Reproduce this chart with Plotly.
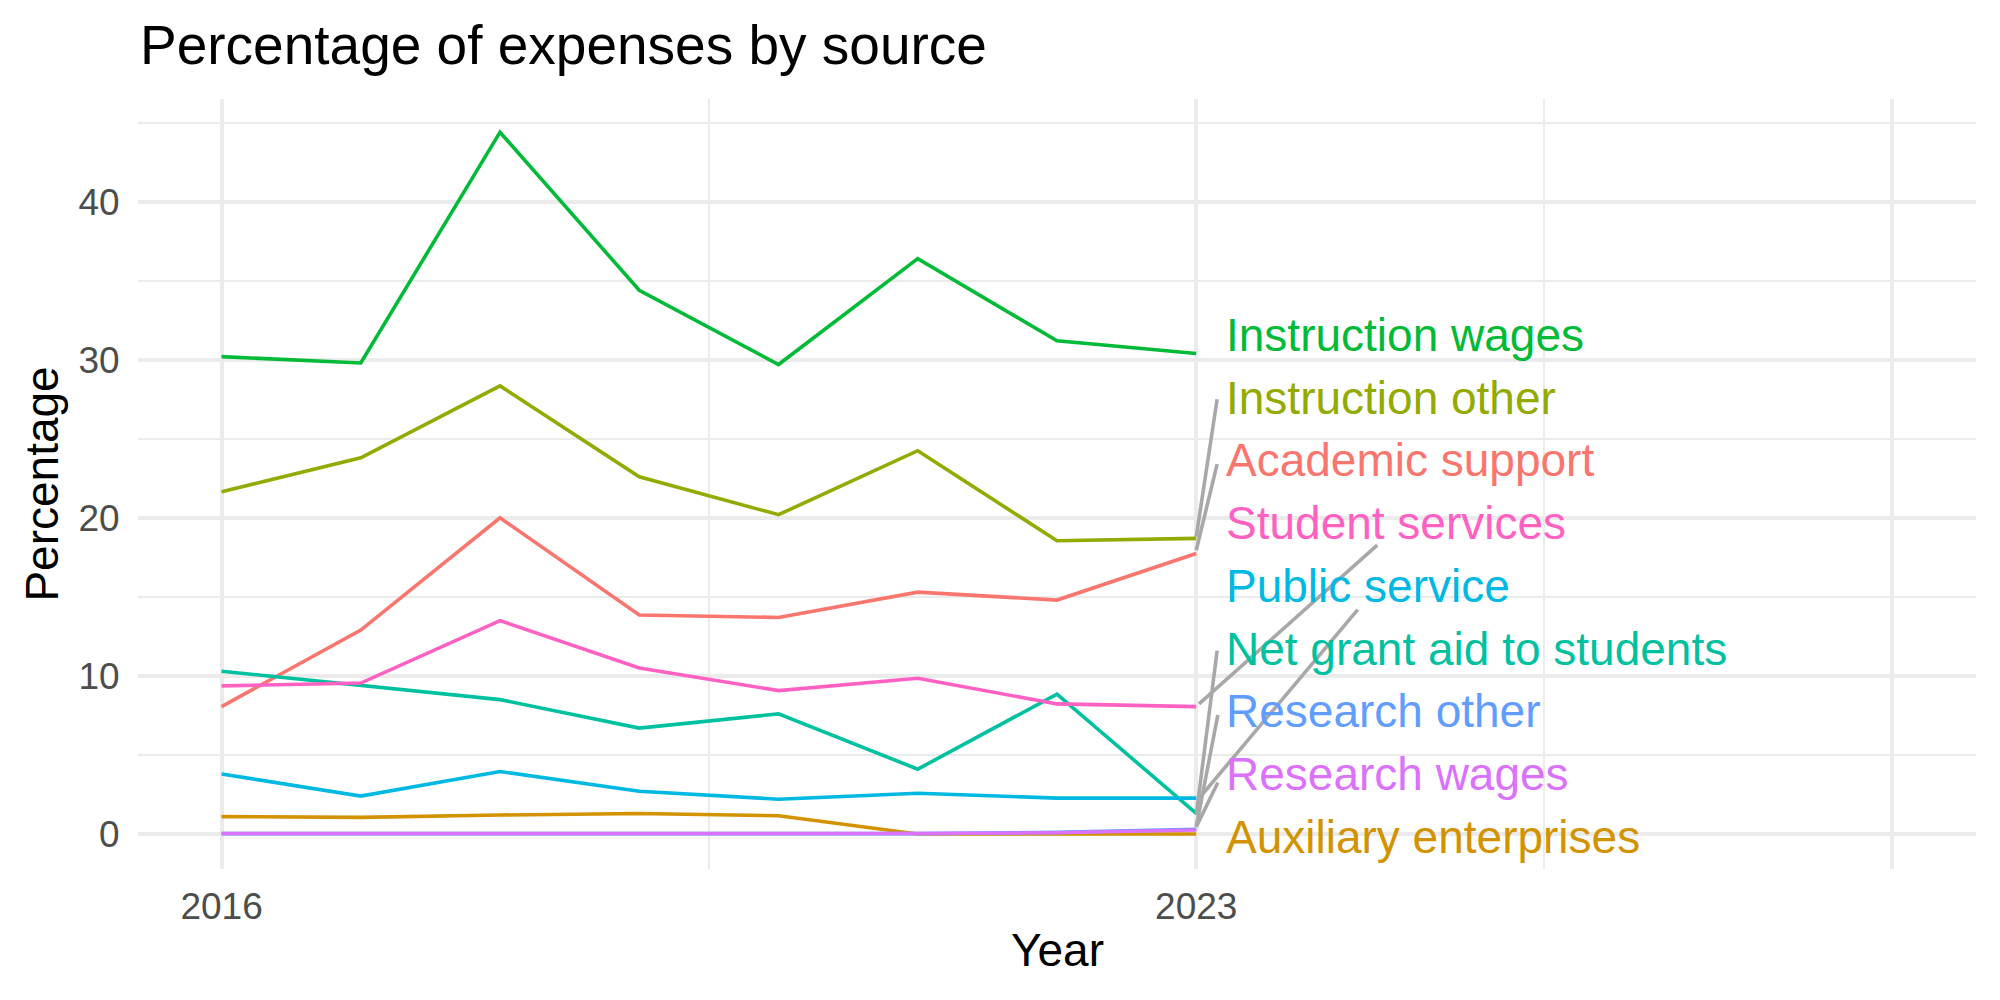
import plotly.graph_objects as go

# ---------------- data ----------------
years = [2016, 2017, 2018, 2019, 2020, 2021, 2022, 2023]

academic_support = [8.06, 12.9, 20.0, 13.85, 13.7, 15.3, 14.8, 17.75]
auxiliary_enterprises = [1.1, 1.05, 1.2, 1.3, 1.15, 0.0, 0.0, 0.0]
instruction_other = [21.65, 23.8, 28.35, 22.6, 20.2, 24.25, 18.55, 18.7]
instruction_wages = [30.2, 29.8, 44.4, 34.4, 29.7, 36.4, 31.2, 30.4]
net_grant_aid = [10.3, 9.4, 8.5, 6.7, 7.6, 4.1, 8.85, 1.3]
public_service = [3.8, 2.4, 3.95, 2.7, 2.2, 2.58, 2.27, 2.27]
research_other = [0.02, 0.02, 0.03, 0.02, 0.02, 0.02, 0.1, 0.3]
research_wages = [0.03, 0.03, 0.04, 0.02, 0.02, 0.03, 0.08, 0.25]
student_services = [9.37, 9.55, 13.5, 10.5, 9.07, 9.85, 8.23, 8.06]

series_names = [
    "Academic support", "Auxiliary enterprises", "Instruction other",
    "Instruction wages", "Net grant aid to students", "Public service",
    "Research other", "Research wages", "Student services",
]
series_values = [
    academic_support, auxiliary_enterprises, instruction_other,
    instruction_wages, net_grant_aid, public_service,
    research_other, research_wages, student_services,
]
colors = ["#F8766D", "#D39200", "#93AA00", "#00BA38", "#00C19F",
          "#00B9E3", "#619CFF", "#DB72FB", "#FF61C3"]

x_tick_vals = [2016, 2023, 2028]
x_tick_text = ["2016", "2023", ""]
y_tick_vals = [0, 10, 20, 30, 40]

# label order (top to bottom) as placed by the repel layout
label_order = [
    "Instruction wages", "Instruction other", "Academic support",
    "Student services", "Public service", "Net grant aid to students",
    "Research other", "Research wages", "Auxiliary enterprises",
]
label_y = [31.6, 27.6, 23.65, 19.7, 15.7, 11.7, 7.75, 3.8, -0.2]
label_x = 2023.2

# leader segments: (name, x_start, y_start, x_end, y_end)
segments = [
    ("Instruction other", 2023.0, 18.8, 2023.15, 27.5),
    ("Academic support", 2023.0, 17.95, 2023.15, 23.4),
    ("Student services", 2023.02, 8.23, 2024.30, 18.28),
    ("Public service", 2023.01, 2.15, 2024.16, 14.2),
    ("Net grant aid to students", 2023.0, 1.2, 2023.15, 11.6),
    ("Research other", 2023.0, 0.45, 2023.155, 7.53),
    ("Research wages", 2023.0, 0.45, 2023.155, 3.26),
]

FONT = "Liberation Sans, Arial, Helvetica, sans-serif"
GRID = "#EBEBEB"

fig = go.Figure()
color_map = dict(zip(series_names, colors))
for name, vals, col in zip(series_names, series_values, colors):
    fig.add_trace(go.Scatter(
        x=years, y=vals, mode="lines", name=name,
        line=dict(color=col, width=3.6), showlegend=False,
        hoverinfo="x+y+name",
    ))

for name, x0, y0, x1, y1 in segments:
    fig.add_shape(type="line", xref="x", yref="y", x0=x0, y0=y0, x1=x1, y1=y1,
                  line=dict(color="#A8A8A8", width=3.6), layer="above")

for name, ly in zip(label_order, label_y):
    fig.add_annotation(x=label_x, y=ly, xref="x", yref="y", text=name,
                       showarrow=False, xanchor="left", yanchor="middle",
                       font=dict(family=FONT, size=46, color=color_map[name]))

# plot area in pixels
L, R, T, B = 138.4, 24, 98.5, 130.8
W, H = 2000, 1000
ph = H - T - B
pw = W - L - R

fig.add_annotation(text="Percentage of expenses by source", xref="paper", yref="paper",
                   x=(138 - L) / pw, y=(H - B - 44.8) / ph, xanchor="left", yanchor="middle",
                   showarrow=False, font=dict(family=FONT, size=55, color="#000000"))
fig.add_annotation(text="Year", xref="paper", yref="paper",
                   x=0.5, y=(H - B - 950) / ph, xanchor="center", yanchor="middle",
                   showarrow=False, font=dict(family=FONT, size=46, color="#000000"))
fig.add_annotation(text="Percentage", xref="paper", yref="paper",
                   x=(42 - L) / pw, y=0.5, xanchor="center", yanchor="middle",
                   textangle=-90,
                   showarrow=False, font=dict(family=FONT, size=46, color="#000000"))

fig.update_layout(
    width=W, height=H,
    margin=dict(l=L, r=R, t=T, b=B, pad=0),
    paper_bgcolor="white", plot_bgcolor="white",
    font=dict(family=FONT),
    showlegend=False,
    xaxis=dict(
        range=[2015.4, 2028.6], tickmode="array", tickvals=x_tick_vals, ticktext=x_tick_text,
        showgrid=True, gridcolor=GRID, gridwidth=4, zeroline=False, showline=False,
        ticks="outside", ticklen=5, tickcolor="rgba(0,0,0,0)",
        tickfont=dict(family=FONT, size=37, color="#4D4D4D"),
        minor=dict(tickvals=[2019.5, 2025.5], showgrid=True, gridcolor=GRID, gridwidth=2, ticks=""),
    ),
    yaxis=dict(
        range=[-2.215, 46.5], tickmode="array", tickvals=y_tick_vals,
        showgrid=True, gridcolor=GRID, gridwidth=4, zeroline=False, showline=False,
        ticks="outside", ticklen=10, tickcolor="rgba(0,0,0,0)",
        tickfont=dict(family=FONT, size=37, color="#4D4D4D"),
        minor=dict(tickvals=[5, 15, 25, 35, 45], showgrid=True, gridcolor=GRID, gridwidth=2, ticks=""),
    ),
)

fig.write_html("out.html")
